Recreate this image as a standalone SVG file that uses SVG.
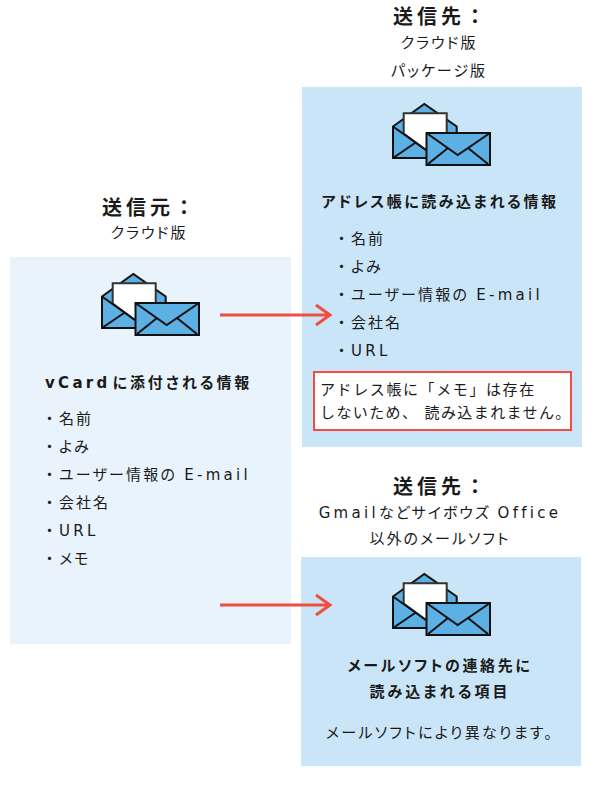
<svg xmlns="http://www.w3.org/2000/svg" width="594" height="795" viewBox="0 0 594 795">
<style>
text{font-family:"DejaVu Sans","Noto Sans CJK JP",sans-serif;fill:#1a1a1a;letter-spacing:2px;font-size:15px;font-feature-settings:"palt"}
.h{font-size:20px;font-weight:bold;letter-spacing:4px;font-feature-settings:normal}
.b{font-weight:bold}
.m{text-anchor:middle}
.l{letter-spacing:3.3px}
.d{font-feature-settings:normal;letter-spacing:2px}
.f{font-feature-settings:normal}
.e{fill:#5cb0e4;stroke:#111;stroke-width:2}
.n{fill:none;stroke:#111;stroke-width:2}
.a{fill:none;stroke:#f04e40;stroke-width:3}
</style>
<defs>
<symbol id="env" width="100" height="66" viewBox="0 0 100 66" overflow="visible">
<path class="e" d="M1 23.500L32.300 1L64.700 23.500V55H1Z"/>
<path class="n" d="M1 55L26 38"/>
<path d="M11.700 30.500V10.300H54.700V47H34Z" fill="#fff" stroke="#333" stroke-width="2"/>
<path class="n" d="M1 23.500L34 47"/>
<rect class="e" x="34.500" y="30" width="63.500" height="32"/>
<path class="n" d="M34.500 30L65.700 52L98 30M36 61L56 45M96 61L76 45"/>
</symbol>
</defs>
<g id="source">
<rect x="10" y="257" width="281" height="387" fill="#e8f3fc"/>
<text class="h" x="102" y="215">送信元：</text>
<text class="m" x="149" y="238">クラウド版</text>
<use href="#env" x="101" y="273"/>
<text class="b" x="45" y="388" style="letter-spacing:2.9px"><tspan class="l">vCard</tspan><tspan dx="2">に添付される情報</tspan></text>
<text x="42" y="424"><tspan class="d">・</tspan>名前</text>
<text x="42" y="452"><tspan class="d">・</tspan>よみ</text>
<text x="42" y="480" style="letter-spacing:2.2px"><tspan class="d">・</tspan>ユーザー情報の <tspan class="l">E-mail</tspan></text>
<text x="42" y="508"><tspan class="d">・</tspan>会社名</text>
<text x="42" y="536" class="l"><tspan class="d">・</tspan>URL</text>
<text x="42" y="564"><tspan class="d">・</tspan>メモ</text>
</g>
<g id="dest1">
<rect x="302" y="87" width="280" height="360" fill="#c9e5f7"/>
<text class="h" x="393" y="24">送信先：</text>
<text class="m" x="439" y="48">クラウド版</text>
<text class="m" x="439" y="76">パッケージ版</text>
<use href="#env" x="392" y="103"/>
<text class="b m" x="440" y="207" style="letter-spacing:2.5px">アドレス帳に読み込まれる情報</text>
<text x="334" y="244"><tspan class="d">・</tspan>名前</text>
<text x="334" y="272"><tspan class="d">・</tspan>よみ</text>
<text x="334" y="300" style="letter-spacing:2.2px"><tspan class="d">・</tspan>ユーザー情報の <tspan class="l">E-mail</tspan></text>
<text x="334" y="328"><tspan class="d">・</tspan>会社名</text>
<text x="334" y="356" class="l"><tspan class="d">・</tspan>URL</text>
<rect x="314" y="372" width="257" height="58" fill="#fff" stroke="#f04e40" stroke-width="2"/>
<text class="f" x="320" y="395" style="letter-spacing:1.6px">アドレス帳に「メモ」は存在</text>
<text class="f" x="320" y="418" style="letter-spacing:1.4px">しないため、 読み込まれません。</text>
</g>
<g id="dest2">
<rect x="301" y="557" width="280" height="209" fill="#c9e5f7"/>
<text class="h" x="393" y="494">送信先：</text>
<text class="m" x="440" y="518"><tspan class="l">Gmail</tspan>などサイボウズ <tspan class="l">Office</tspan></text>
<text class="m" x="440" y="544">以外のメールソフト</text>
<use href="#env" x="392" y="573"/>
<text class="b m" x="440" y="671" style="letter-spacing:2.6px">メールソフトの連絡先に</text>
<text class="b m" x="440" y="697" style="letter-spacing:3px">読み込まれる項目</text>
<text class="m" x="440" y="738" style="letter-spacing:2.3px">メールソフトにより異なります。</text>
</g>
<g id="connectors">
<path class="a" d="M220 315H329M316 305L330 315L316 325"/>
<path class="a" d="M220 605H329M316 595L330 605L316 615"/>
</g>
</svg>
